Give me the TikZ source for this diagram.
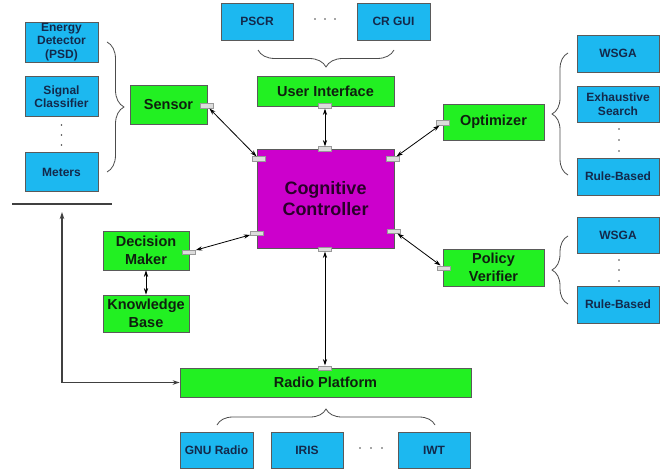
\documentclass[tikz,border=0pt]{standalone}
\usepackage{fontspec}
\setmainfont{Liberation Sans}
\usetikzlibrary{arrows.meta,decorations.pathreplacing}
\definecolor{gbox}{HTML}{22F022}
\definecolor{bbox}{HTML}{1CB8F0}
\definecolor{mbox}{HTML}{CC00CC}
\definecolor{gtext}{HTML}{0F1F0F}
\definecolor{btext}{HTML}{13294B}
\definecolor{mtext}{HTML}{2A002A}
\definecolor{edge}{HTML}{5A5A5A}
\definecolor{portc}{HTML}{DCDCDC}
\tikzset{
  box/.style={draw=edge, line width=0.7pt, inner sep=0pt, align=center},
  greenbox/.style={box, fill=gbox, text=gtext, font=\bfseries\fontsize{14.5}{17.5}\selectfont},
  bluebox/.style={box, fill=bbox, text=btext, font=\bfseries\fontsize{12}{13.5}\selectfont},
  ccbox/.style={box, fill=mbox, text=mtext, font=\bfseries\fontsize{18}{21.5}\selectfont},
  port/.style={draw=gray!80, fill=portc, line width=0.5pt, inner sep=0pt, minimum width=13pt, minimum height=4.5pt},
  conn/.style={{Stealth[length=6.5pt,width=4.2pt]}-{Stealth[length=6.5pt,width=4.2pt]}, line width=0.8pt, black},
  brc/.style={draw=gray!60!black, line width=0.8pt, decorate, decoration={brace, amplitude=#1}},
  dotc/.style={fill=black!70}
}
\begin{document}
\begin{tikzpicture}[x=1pt,y=-1pt]
\useasboundingbox[fill=white] (0,0) rectangle (660,470);

% left sensor group
\node[bluebox, minimum width=73pt, minimum height=40pt] (ed) at (61.5,42) {Energy\\Detector\\(PSD)};
\node[bluebox, minimum width=73pt, minimum height=40pt] (sc) at (61.5,96.5) {Signal\\Classifier};
\node[bluebox, minimum width=73pt, minimum height=39pt] (met) at (61.5,172) {Meters};
\foreach \y in {125,135,145} \fill[dotc] (61.5,\y) circle (0.9pt);
\draw[brc=17pt] (107,42) -- (107,172);
\node[greenbox, minimum width=77pt, minimum height=39pt] (sen) at (168.5,104.5) {Sensor};

% top UI group
\node[bluebox, minimum width=72pt, minimum height=37pt] (pscr) at (257,21.5) {PSCR};
\node[bluebox, minimum width=73pt, minimum height=37pt] (gui) at (393.5,21.5) {CR GUI};
\foreach \x in {315,325,335} \fill[dotc] (\x,19) circle (0.9pt);
\draw[brc=17pt] (394,50) -- (258,50);
\node[greenbox, minimum width=137pt, minimum height=30pt] (ui) at (325.5,91) {User Interface};

% controller
\node[ccbox, minimum width=137pt, minimum height=99pt] (cc) at (325.5,198.5) {Cognitive\\Controller};

% optimizer group
\node[greenbox, minimum width=101pt, minimum height=36pt] (opt) at (493.5,122) {Optimizer};
\draw[brc=16pt] (568,175) -- (568,53);
\node[bluebox, minimum width=82pt, minimum height=37pt] (wsga) at (618,53.5) {WSGA};
\node[bluebox, minimum width=82pt, minimum height=36pt] (es) at (618,104) {Exhaustive\\Search};
\foreach \y in {129,140,151} \fill[dotc] (619,\y) circle (0.9pt);
\node[bluebox, minimum width=82pt, minimum height=37pt] (rb) at (618,176.5) {Rule-Based};

% policy verifier group
\node[greenbox, minimum width=101pt, minimum height=37pt] (pv) at (493.5,267.5) {Policy\\Verifier};
\draw[brc=16pt] (568,304) -- (568,236);
\node[bluebox, minimum width=82pt, minimum height=36pt] (wsgb) at (618,235) {WSGA};
\foreach \y in {260,270,281} \fill[dotc] (619,\y) circle (0.9pt);
\node[bluebox, minimum width=82pt, minimum height=37pt] (rbb) at (618,304.5) {Rule-Based};

% decision maker / knowledge base
\node[greenbox, minimum width=86pt, minimum height=39pt] (dm) at (146,250.5) {Decision\\Maker};
\node[greenbox, minimum width=86pt, minimum height=37pt] (kb) at (146,313.5) {Knowledge\\Base};

% radio platform group
\node[greenbox, minimum width=291pt, minimum height=29pt] (rp) at (325.5,382.5) {Radio Platform};
\draw[brc=16pt] (217,425) -- (435,425);
\node[bluebox, minimum width=73pt, minimum height=36pt] (gnu) at (216.5,450) {GNU Radio};
\node[bluebox, minimum width=72pt, minimum height=36pt] (iris) at (307,450) {IRIS};
\foreach \x in {360,371,382} \fill[dotc] (\x,448) circle (0.9pt);
\node[bluebox, minimum width=72pt, minimum height=36pt] (iwt) at (434,450) {IWT};

% feedback bar and line
\coordinate (barL) at (12,204);
\coordinate (barR) at (112,204);
\draw[line width=1.2pt, draw=black!75] (barL) -- (barR);
\coordinate (fb) at (62,212);
\draw[{Stealth[length=7pt,width=4.5pt]}-{Stealth[length=7pt,width=4.5pt]}, line width=1.2pt, draw=black!75] (fb) |- (rp.west);

% ports
\node[port] (psen) at (207,106) {};
\node[port] (pui) at (325,106) {};
\node[port] (pcct) at (325,149) {};
\node[port] (pcctl) at (259,159) {};
\node[port] (pcctr) at (393,159) {};
\node[port] (pccbl) at (257,233) {};
\node[port] (pccbr) at (394,231) {};
\node[port] (pccb) at (325,249) {};
\node[port] (popt) at (443,123) {};
\node[port] (ppv) at (444,268) {};
\node[port] (pdm) at (189,252) {};
\node[port] (prp) at (325,368) {};

% connectors
\draw[conn] (psen) -- (pcctl);
\draw[conn] (pui) -- (pcct);
\draw[conn] (popt) -- (pcctr);
\draw[conn] (pdm) -- (pccbl);
\draw[conn] (ppv) -- (pccbr);
\draw[conn] (pccb) -- (prp);
\draw[conn] (dm) -- (kb);
\end{tikzpicture}
\end{document}
